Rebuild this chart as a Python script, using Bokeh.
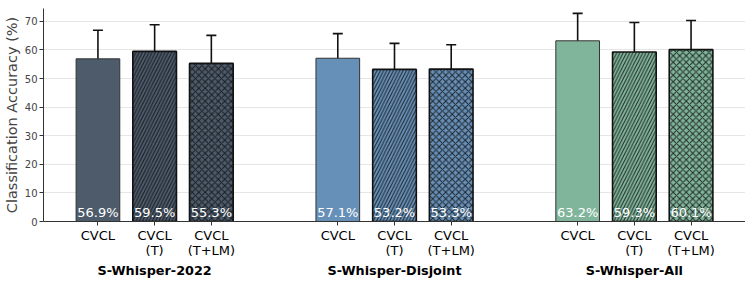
from bokeh.plotting import figure
from bokeh.models import ColumnDataSource, FactorRange, Whisker, FixedTicker
from bokeh.core.properties import value
from bokeh.embed import file_html
from bokeh.resources import INLINE

groups = ["S-Whisper-2022", "S-Whisper-Disjoint", "S-Whisper-All"]
methods = ["CVCL", "CVCL\n(T)", "CVCL\n(T+LM)"]
accuracy = [[56.9, 59.5, 55.3], [57.1, 53.2, 53.3], [63.2, 59.3, 60.1]]
errors = [[10.0, 9.3, 9.8], [8.6, 9.1, 8.5], [9.6, 10.3, 10.2]]
group_colors = ["#4d5b6b", "#6790b8", "#80b59b"]
hatches = [" ", "/", "x"]
yticks = [0, 10, 20, 30, 40, 50, 60, 70]

FONT = "DejaVu Sans"

x, acc, up, lo, col, hat, lab, lc, lw = [], [], [], [], [], [], [], [], []
for gi, g in enumerate(groups):
    for mi, m in enumerate(methods):
        a = accuracy[gi][mi]
        e = errors[gi][mi]
        x.append((g, m))
        acc.append(a)
        up.append(a + e)
        lo.append(a - e)
        col.append(group_colors[gi])
        hat.append(hatches[mi])
        lab.append(f"{a:.1f}%")
        lc.append("#333333" if mi == 0 else "#111111")
        lw.append(1.0 if mi == 0 else 1.6)

src = ColumnDataSource(dict(x=x, acc=acc, up=up, lo=lo, col=col, hat=hat,
                            lab=lab, lc=lc, lw=lw, base=[0.6] * len(x)))

xr = FactorRange(*x, group_padding=1.23, range_padding=0.46,
                 range_padding_units="absolute")

p = figure(x_range=xr, y_range=(0, 74.5), frame_width=702, frame_height=213,
           output_backend="svg", toolbar_location=None,
           min_border_left=0, min_border_right=0, min_border_top=8,
           min_border_bottom=0)
p.outline_line_color = None
p.background_fill_color = "white"

p.vbar(x="x", top="acc", width=0.77, source=src, fill_color="col",
       line_color="lc", line_width="lw", hatch_pattern="hat",
       hatch_color="#111111", hatch_alpha=0.85, hatch_scale=6.5,
       hatch_weight=1.0)

w = Whisker(source=src, base="x", upper="up", lower="lo",
            line_color="#111111", line_width=1.6)
w.upper_head.size = 10
w.lower_head.size = 10
w.upper_head.line_width = 1.6
w.lower_head.line_width = 1.6
w.upper_head.line_color = "#111111"
w.lower_head.line_color = "#111111"
p.add_layout(w)

p.text(x="x", y="base", text="lab", source=src, text_color="white",
       text_align="center", text_baseline="bottom",
       text_font=value(FONT), text_font_size="13px")

# axes
p.yaxis.ticker = FixedTicker(ticks=yticks)
p.yaxis.axis_label = "Classification Accuracy (%)"
p.yaxis.axis_label_text_font = FONT
p.yaxis.axis_label_text_font_style = "normal"
p.yaxis.axis_label_text_font_size = "14.5px"
p.yaxis.axis_label_standoff = 2
p.yaxis.major_label_text_font = FONT
p.yaxis.major_label_text_font_size = "10px"
p.yaxis.major_label_standoff = 2
p.yaxis.minor_tick_line_color = None
p.yaxis.major_tick_out = 4
p.yaxis.major_tick_in = 0
p.yaxis.axis_line_color = "#333333"
p.yaxis.major_tick_line_color = "#333333"

p.xaxis.major_label_text_font = FONT
p.xaxis.major_label_text_font_size = "13px"
p.xaxis.major_label_text_line_height = 1.0
p.xaxis.major_label_text_color = "black"
p.xaxis.group_text_font = FONT
p.xaxis.group_text_font_size = "12.8px"
p.xaxis.group_text_font_style = "bold"
p.xaxis.group_text_color = "black"
p.xaxis.separator_line_color = None
p.xaxis.axis_line_color = "#333333"
p.xaxis.major_tick_line_color = "#333333"
p.xaxis.major_tick_out = 4
p.xaxis.major_tick_in = 0
p.xaxis.major_label_standoff = 2

p.xgrid.grid_line_color = None
p.ygrid.grid_line_color = "#e6e6e6"
p.ygrid.grid_line_width = 1

open("out.html", "w").write(file_html(p, INLINE))
